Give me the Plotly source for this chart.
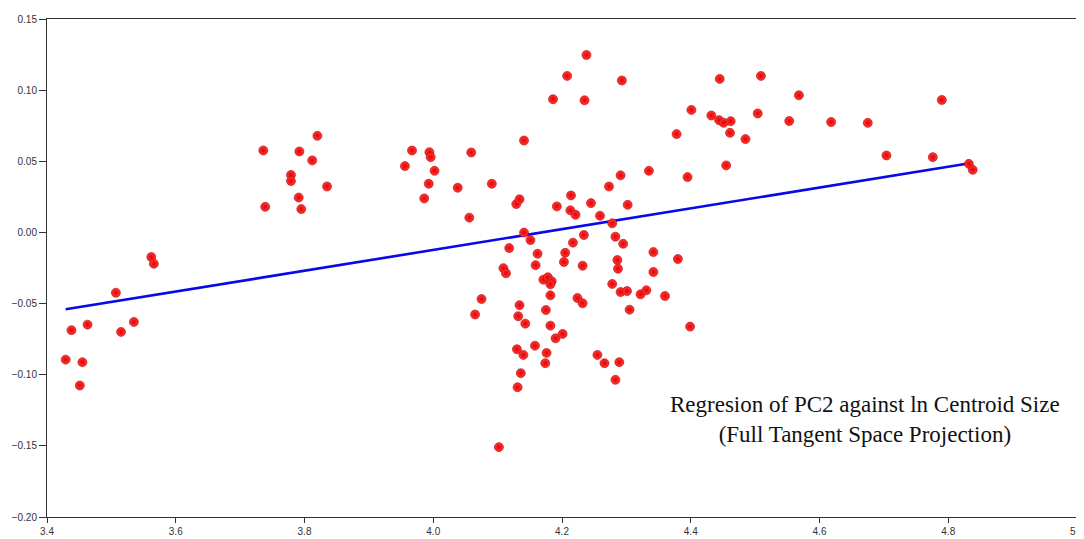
import plotly.graph_objects as go

# ln Centroid Size (x) and PC2 score (y)
ln_cs = [3.429, 3.438, 3.451, 3.455, 3.463, 3.507, 3.515, 3.535, 3.562, 3.566,
         3.736, 3.739, 3.779, 3.779, 3.791, 3.792, 3.795, 3.812, 3.820, 3.835,
         3.956, 3.967, 3.986, 3.993, 3.994, 3.996, 4.002, 4.038, 4.056, 4.059,
         4.065, 4.075, 4.091, 4.102, 4.109, 4.113, 4.118, 4.129, 4.130, 4.131,
         4.132, 4.134, 4.134, 4.136, 4.140, 4.141, 4.141, 4.143, 4.151, 4.158,
         4.159, 4.162, 4.171, 4.178, 4.184, 4.182, 4.175, 4.182, 4.182, 4.176,
         4.174, 4.186, 4.190, 4.192, 4.201, 4.203, 4.205, 4.208, 4.214, 4.213,
         4.217, 4.221, 4.224, 4.232, 4.232, 4.234, 4.235, 4.238, 4.245, 4.255,
         4.259, 4.266, 4.273, 4.278, 4.278, 4.283, 4.283, 4.286, 4.287, 4.289,
         4.291, 4.291, 4.293, 4.295, 4.301, 4.302, 4.305, 4.322, 4.331, 4.335,
         4.342, 4.342, 4.360, 4.378, 4.380, 4.395, 4.399, 4.401, 4.432, 4.444,
         4.445, 4.451, 4.455, 4.461, 4.462, 4.485, 4.504, 4.509, 4.553, 4.568,
         4.618, 4.675, 4.704, 4.776, 4.790, 4.832, 4.838]

pc2 = [-0.0894, -0.0687, -0.1076, -0.0912, -0.0648, -0.0424, -0.0699, -0.0629, -0.0173, -0.0220,
       0.0576, 0.0180, 0.0404, 0.0361, 0.0245, 0.0569, 0.0164, 0.0506, 0.0679, 0.0323,
       0.0466, 0.0576, 0.0239, 0.0342, 0.0564, 0.0529, 0.0433, 0.0314, 0.0104, 0.0562,
       -0.0577, -0.0468, 0.0342, -0.1509, -0.0251, -0.0287, -0.0110, 0.0199, -0.0821, -0.1088,
       -0.0589, 0.0233, -0.0511, -0.0989, -0.0861, 0.0646, -0.0001, -0.0641, -0.0054, -0.0796,
       -0.0230, -0.0150, -0.0332, -0.0315, -0.0343, -0.0365, -0.0545, -0.0442, -0.0655, -0.0847,
       -0.0919, 0.0936, -0.0744, 0.0183, -0.0713, -0.0208, -0.0143, 0.1100, 0.0260, 0.0155,
       -0.0072, 0.0124, -0.0461, -0.0234, -0.0498, -0.0018, 0.0929, 0.1247, 0.0206, -0.0861,
       0.0117, -0.0919, 0.0323, 0.0064, -0.0362, -0.0030, -0.1036, -0.0194, -0.0255, -0.0912,
       0.0401, -0.0419, 0.1068, -0.0080, -0.0412, 0.0194, -0.0543, -0.0435, -0.0407, 0.0433,
       -0.0138, -0.0278, -0.0447, 0.0691, -0.0187, 0.0389, -0.0662, 0.0861, 0.0822, 0.0789,
       0.1079, 0.0770, 0.0471, 0.0700, 0.0782, 0.0656, 0.0836, 0.1100, 0.0783, 0.0964,
       0.0776, 0.0770, 0.0541, 0.0529, 0.0931, 0.0482, 0.0440]

# Regression line
fit_slope = 0.0731
fit_intercept = -0.3047

x_ticks = [3.4, 3.6, 3.8, 4.0, 4.2, 4.4, 4.6, 4.8, 5.0]
y_ticks = [-0.20, -0.15, -0.10, -0.05, 0.00, 0.05, 0.10, 0.15]

title_lines = ["Regresion of PC2 against ln Centroid Size",
               "(Full Tangent Space Projection)"]

line_x = [min(ln_cs), max(ln_cs)]
line_y = [fit_intercept + fit_slope * v for v in line_x]

fig = go.Figure()
fig.add_trace(go.Scatter(
    x=line_x, y=line_y, mode="lines",
    line=dict(color="#0808e8", width=2.6),
    hoverinfo="skip", showlegend=False))
fig.add_trace(go.Scatter(
    x=ln_cs, y=pc2, mode="markers",
    marker=dict(size=9, color="#ff3a3a",
                gradient=dict(type="radial", color="#e00000"),
                line=dict(width=0.6, color="#c00000")),
    showlegend=False))

fig.add_annotation(
    xref="paper", yref="paper", x=0.7945, y=0.195,
    xanchor="center", yanchor="middle",
    text="<br>".join(title_lines), showarrow=False,
    font=dict(family="Liberation Serif, Times New Roman, serif", size=23, color="#111111"),
    align="center")

axis_common = dict(showline=True, linecolor="#333333", linewidth=1, mirror=True,
                   showgrid=False, zeroline=False, ticks="outside", tickcolor="#333333",
                   ticklabeloverflow="allow",
                   tickfont=dict(family="Liberation Sans, Arial, sans-serif", size=10, color="#333333"))

fig.update_xaxes(range=[3.4, 5.0], tickvals=x_ticks, tickformat=".1f", ticklen=5, **axis_common)
fig.update_yaxes(range=[-0.20, 0.15], tickvals=y_ticks, tickformat=".2f", ticklen=7, **axis_common)

fig.update_layout(
    width=1076, height=531,
    margin=dict(l=39, r=7, t=11, b=22, autoexpand=False),
    paper_bgcolor="white", plot_bgcolor="white",
    hovermode="closest")

fig.write_html("out.html")
